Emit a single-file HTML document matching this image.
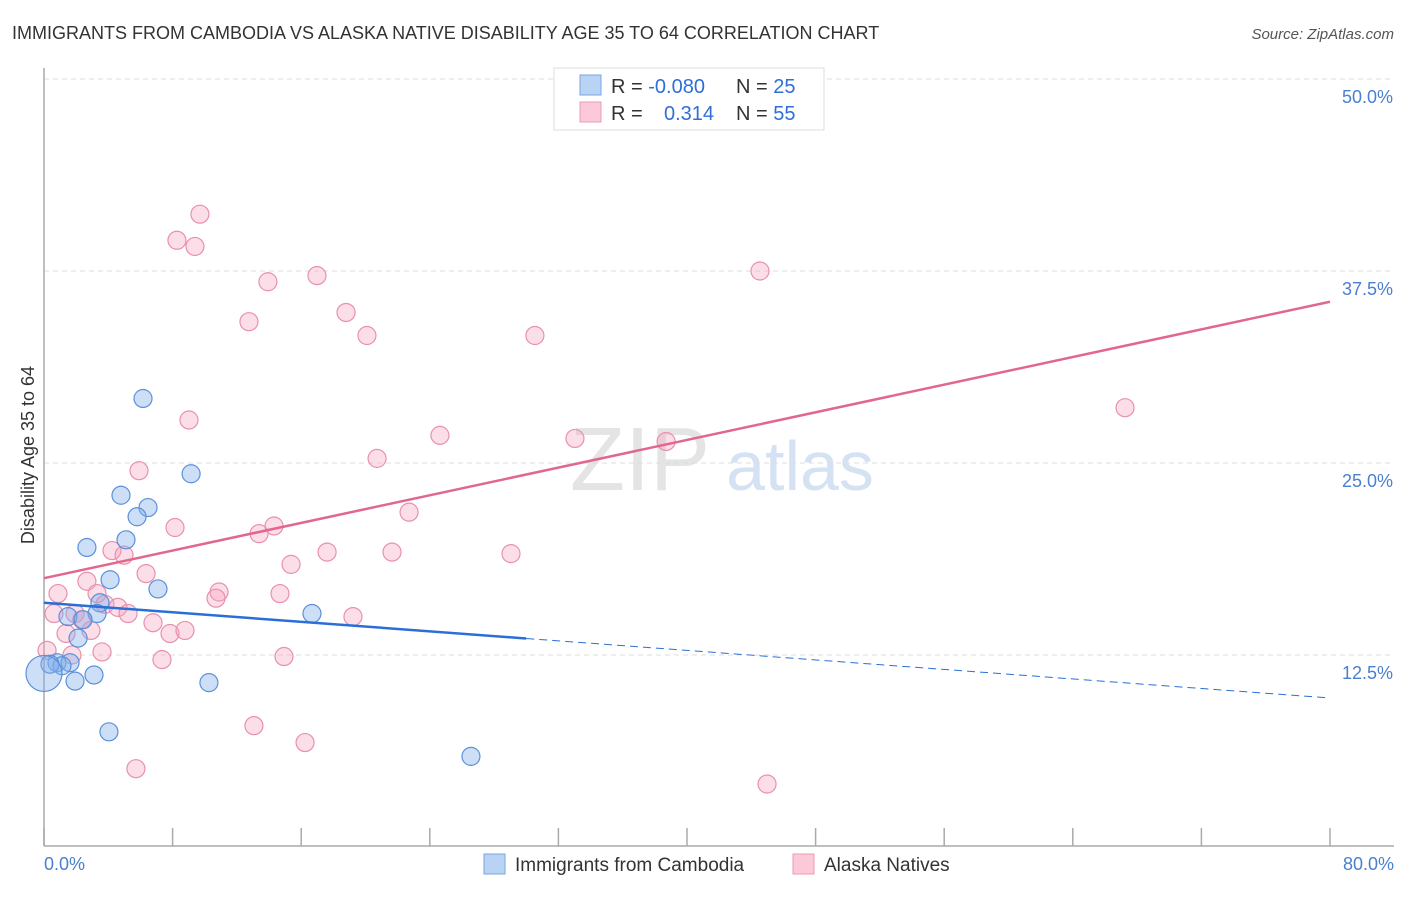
<!DOCTYPE html>
<html><head><meta charset="utf-8"><style>
body{margin:0;background:#fff;font-family:"Liberation Sans",sans-serif;}
svg text{font-family:"Liberation Sans",sans-serif;}
</style></head><body>
<svg id="chart" width="1406" height="892">
<text x="12" y="39" font-size="18" fill="#333">IMMIGRANTS FROM CAMBODIA VS ALASKA NATIVE DISABILITY AGE 35 TO 64 CORRELATION CHART</text>
<text x="1394" y="39" font-size="15" fill="#555" font-style="italic" text-anchor="end">Source: ZipAtlas.com</text>
<text x="640" y="490" font-size="90" fill="#e4e4e4" font-family="Liberation Serif" text-anchor="middle">ZIP</text>
<text x="800" y="490" font-size="70" fill="#d4e2f4" text-anchor="middle">atlas</text>
<g id="grid"></g>
<g id="axes"></g>
<g id="marks"></g>
<text transform="translate(34,455) rotate(-90)" font-size="18" fill="#333" text-anchor="middle">Disability Age 35 to 64</text>
<text x="44" y="870" font-size="18" fill="#4a7fd0">0.0%</text>
<text x="1394" y="870" font-size="18" fill="#4a7fd0" text-anchor="end">80.0%</text>
<g>
<rect x="554" y="68" width="270" height="62" fill="#fff" stroke="#ddd"/>
<rect x="580" y="75" width="21" height="20" fill="#b8d3f4" stroke="#7aa6e0"/>
<rect x="580" y="102" width="21" height="20" fill="#fcc9d8" stroke="#ea9ab4"/>
<text x="611" y="93" font-size="20" fill="#333">R = <tspan fill="#2f6fd6">-0.080</tspan></text>
<text x="736" y="93" font-size="20" fill="#333">N = <tspan fill="#2f6fd6">25</tspan></text>
<text x="611" y="120" font-size="20" fill="#333">R = <tspan fill="#2f6fd6" x="664">0.314</tspan></text>
<text x="736" y="120" font-size="20" fill="#333">N = <tspan fill="#2f6fd6">55</tspan></text>
</g>
<g>
<rect x="484" y="854" width="21" height="20" fill="#b8d3f4" stroke="#7aa6e0"/>
<text x="515" y="871" font-size="19" fill="#333">Immigrants from Cambodia</text>
<rect x="793" y="854" width="21" height="20" fill="#fcc9d8" stroke="#ea9ab4"/>
<text x="824" y="871" font-size="19" fill="#333">Alaska Natives</text>
</g>
</svg>
<script>
const yTicks=[12.5,25,37.5,50];
const yTickLabels=["12.5%","25.0%","37.5%","50.0%"];
const blueX=[6.16,9.15,4.79,6.47,5.79,2.67,5.10,4.11,7.09,3.48,3.30,1.49,2.43,2.12,16.67,0.81,1.62,1.12,0.37,0,1.93,3.11,10.26,4.04,26.56];
const blueY=[29.2,24.3,22.9,22.1,21.5,19.5,20.0,17.4,16.8,15.9,15.2,15.0,14.8,13.6,15.2,12.0,12.0,11.8,11.9,11.3,10.8,11.2,10.7,7.5,5.9];
const pinkX=[9.70,8.27,9.39,13.93,16.98,44.54,12.75,18.79,20.09,30.54,67.25,9.02,24.63,33.03,38.70,5.91,20.72,8.15,14.31,13.38,22.71,4.23,4.98,17.61,21.65,29.05,15.37,6.35,2.67,0.87,3.30,10.89,10.70,14.68,3.79,4.60,5.23,0.62,1.93,2.36,6.78,19.22,2.92,1.37,7.84,8.77,0.19,1.74,3.61,7.34,14.93,13.06,16.24,5.72,44.98];
const pinkY=[41.2,39.5,39.1,36.8,37.2,37.5,34.2,34.8,33.3,33.3,28.6,27.8,26.8,26.6,26.4,24.5,25.3,20.8,20.9,20.4,21.8,19.3,19.0,19.2,19.2,19.1,18.4,17.8,17.3,16.5,16.5,16.6,16.2,16.5,15.8,15.6,15.2,15.2,15.2,14.8,14.6,15.0,14.1,13.9,13.9,14.1,12.8,12.5,12.7,12.2,12.4,7.9,6.8,5.1,4.1];
const pinkTrend=[17.5,35.5];
const blueTrend=[15.9,9.7];
const blueSolidEnd=30;
const NS="http://www.w3.org/2000/svg";
const X=v=>44+v/80*1286;
const Y=v=>847-v/12.5*192;
function mk(tag,attrs,parent){const e=document.createElementNS(NS,tag);for(const k in attrs)e.setAttribute(k,attrs[k]);parent.appendChild(e);return e;}
const grid=document.getElementById('grid'),axes=document.getElementById('axes'),marks=document.getElementById('marks');
yTicks.forEach((t,i)=>{
 const l=mk('line',{x1:44,x2:1394,y1:Y(t),y2:Y(t),stroke:'#ddd','stroke-dasharray':'5,4'},grid);
 
 
 const tx=mk('text',{x:1393,y:Y(t)+24,'font-size':18,fill:'#4a7fd0','text-anchor':'end'},grid);
 tx.textContent=yTickLabels[i];
 
 
});
const ya=mk('line',{x1:44,x2:44,y1:68,y2:846,stroke:'#aaa','stroke-width':1.5},axes);


const xa=mk('line',{x1:44,x2:1394,y1:846,y2:846,stroke:'#aaa','stroke-width':1.5},axes);


for(let i=0;i<=10;i++){
 const tk=mk('line',{x1:X(i*8),x2:X(i*8),y1:828,y2:846,stroke:'#aaa','stroke-width':1.5},axes);
 
 
}
function dots(xs,ys,fill,stroke,name){
 xs.forEach((x,i)=>{
  const c=mk('circle',{cx:X(x),cy:Y(ys[i]),r:(x===0&&name==='cambodia-point')?18:9,fill:fill,stroke:stroke,'stroke-width':1.2},marks);
  
  
 });
}
dots(pinkX,pinkY,'rgba(245,160,190,0.35)','#e890ad','alaska-point');
dots(blueX,blueY,'rgba(130,175,235,0.4)','#5b90da','cambodia-point');
const pl=mk('line',{x1:X(0),y1:Y(pinkTrend[0]),x2:X(80),y2:Y(pinkTrend[1]),stroke:'#e2678f','stroke-width':2.5},marks);


const by=x=>blueTrend[0]+(blueTrend[1]-blueTrend[0])*x/80;
const bl=mk('line',{x1:X(0),y1:Y(by(0)),x2:X(blueSolidEnd),y2:Y(by(blueSolidEnd)),stroke:'#2a6fd6','stroke-width':2.5},marks);


const bd=mk('line',{x1:X(blueSolidEnd),y1:Y(by(blueSolidEnd)),x2:X(80),y2:Y(by(80)),stroke:'#2a6fd6','stroke-width':1,'stroke-dasharray':'8,5'},marks);


</script>
</body></html>
